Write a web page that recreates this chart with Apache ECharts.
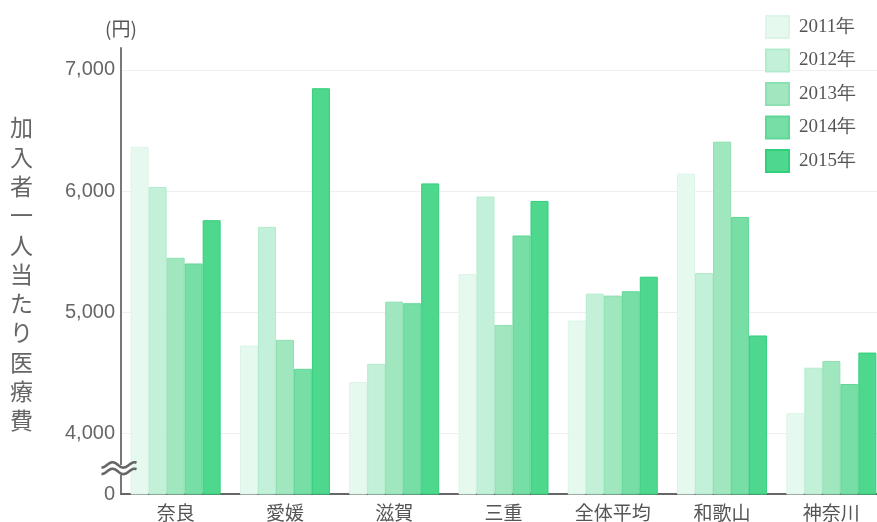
<!DOCTYPE html>
<html>
<head>
<meta charset="utf-8">
<script src="https://cdn.jsdelivr.net/npm/echarts@6/dist/echarts.min.js"></script>
<style>
html,body{margin:0;padding:0;background:#fff;}
#main{width:877px;height:522px;}
</style>
</head>
<body>
<div id="main"></div>
<script>
const categories = ['奈良', '愛媛', '滋賀', '三重', '全体平均', '和歌山', '神奈川'];
const seriesNames = ['2011年', '2012年', '2013年', '2014年', '2015年'];
const y2011 = [6365, 4725, 4424, 5315, 4931, 6143, 4167];
const y2012 = [6033, 5704, 4574, 5954, 5153, 5323, 4542];
const y2013 = [5449, 4772, 5087, 4895, 5137, 6407, 4597];
const y2014 = [5402, 4533, 5074, 5633, 5173, 5786, 4408];
const y2015 = [5759, 6848, 6063, 5918, 5293, 4808, 4667];
const yTickLabels = [4000, 5000, 6000, 7000];
const breakValue = 3500;      // axis bottom, labelled as 0 (broken axis)
const breakLabel = '0';
const yName = '(円)';
const yTitle = '加入者一人当たり医療費';

const fills = ['#e6f9ef', '#c3f0d8', '#a0e7bf', '#77dea6', '#4dd88e'];
const borders = ['#dcf5e8', '#b3ebcd', '#8de0b1', '#5fd796', '#33cf7d'];
const allData = [y2011, y2012, y2013, y2014, y2015];

const chart = echarts.init(document.getElementById('main'), null, {renderer: 'canvas'});

const series = allData.map((d, i) => ({
  name: seriesNames[i],
  type: 'bar',
  data: d,
  barWidth: 18,
  barGap: '0%',
  itemStyle: {color: fills[i], borderColor: borders[i], borderWidth: 1},
  emphasis: {disabled: true}
}));

chart.setOption({
  animation: false,
  grid: {left: 121, width: 765, top: 48, bottom: 28, containLabel: false, outerBoundsMode: 'none'},
  legend: {
    orient: 'vertical',
    left: 765,
    top: 15,
    padding: 0,
    itemWidth: 23,
    itemHeight: 22,
    itemGap: 9.5,
    icon: 'rect',
    data: seriesNames,
    textStyle: {fontFamily: 'Liberation Serif', fontSize: 19, color: '#555', padding: [0, 0, 0, 5]}
  },
  xAxis: {
    type: 'category',
    data: categories,
    axisLine: {lineStyle: {color: '#666', width: 2}},
    axisTick: {show: false},
    axisLabel: {fontFamily: 'Noto Sans CJK JP', fontSize: 19, color: '#555', margin: 9}
  },
  yAxis: {
    type: 'value',
    min: breakValue,
    max: 7180,
    interval: 500,
    name: yName,
    nameLocation: 'end',
    nameGap: 10,
    nameTextStyle: {fontFamily: 'Noto Sans CJK JP', fontSize: 19, color: '#555', align: 'center'},
    axisLine: {show: true, lineStyle: {color: '#777', width: 2}},
    axisTick: {show: false},
    axisLabel: {
      fontFamily: 'Liberation Sans',
      fontSize: 20,
      color: '#666',
      margin: 6,
      showMaxLabel: false,
      formatter: function (v) {
        if (v === breakValue) return breakLabel;
        if (yTickLabels.indexOf(v) >= 0) return v.toLocaleString('en-US');
        return '';
      }
    },
    splitLine: {show: true, lineStyle: {color: ['rgba(0,0,0,0)', '#efefef'], width: 1}}
  },
  series: series
});

// decorations: vertical axis title and the axis break mark
const x0a = chart.convertToPixel({xAxisIndex: 0}, 0);
const x1a = chart.convertToPixel({xAxisIndex: 0}, 1);
const axisX = x0a - (x1a - x0a) / 2;
const yc = chart.convertToPixel({yAxisIndex: 0}, 3715);

function wave(offsetY) {
  const pts = [];
  const N = 40;
  for (let t = 0; t <= N; t++) {
    const x = axisX - 19.5 + t * 35 / N;
    const y = yc + offsetY + 2.7 * Math.cos(2 * Math.PI * (x - (axisX - 19.5)) / 22);
    pts.push([x, y]);
  }
  return pts;
}

chart.setOption({
  graphic: [
    {
      type: 'text',
      left: 10,
      top: 113,
      style: {
        text: yTitle.split('').join('\n'),
        fontFamily: 'Noto Sans CJK JP',
        fontSize: 23,
        lineHeight: 29.3,
        fill: '#666',
        align: 'center'
      }
    },
    {
      type: 'rect',
      z: 100,
      shape: {x: axisX - 3, y: yc - 3, width: 6, height: 10},
      style: {fill: '#fff'}
    },
    {
      type: 'polyline',
      z: 101,
      shape: {points: wave(-3)},
      style: {stroke: '#666', lineWidth: 2.6, fill: null}
    },
    {
      type: 'polyline',
      z: 101,
      shape: {points: wave(3.5)},
      style: {stroke: '#666', lineWidth: 2.6, fill: null}
    }
  ]
});
</script>
</body>
</html>
